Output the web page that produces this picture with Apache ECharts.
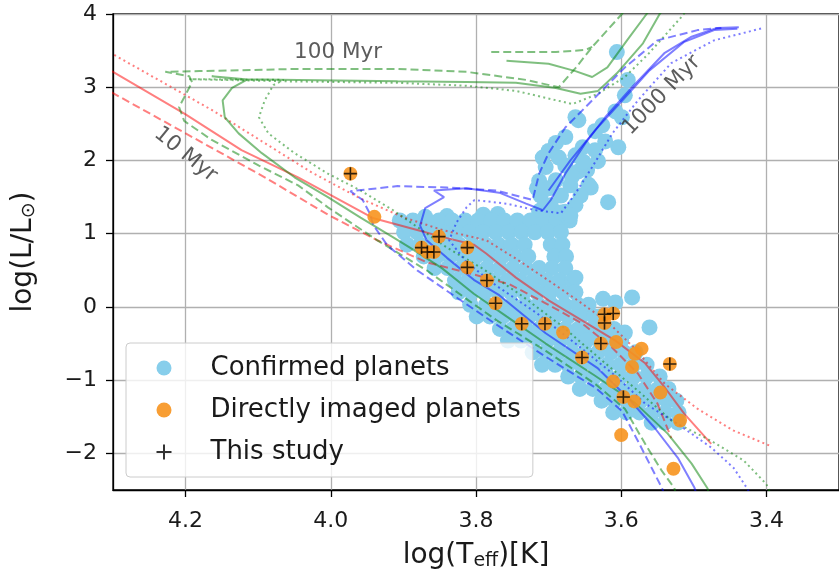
<!DOCTYPE html>
<html>
<head>
<meta charset="utf-8">
<script src="https://cdn.jsdelivr.net/npm/echarts@6/dist/echarts.min.js"></script>
<style>
html, body { margin: 0; padding: 0; background: #fff; }
#chart { width: 839px; height: 581px; }
</style>
</head>
<body>
<div id="chart"></div>
<script>
const xTicks = [3.4, 3.6, 3.8, 4.0, 4.2];
const yTicks = [-2, -1, 0, 1, 2, 3, 4];

// isochrones: 10 Myr (red), 100 Myr (green), 1000 Myr (blue)
const iso10Solid = [[4.33,3.38],[4.30,3.21],[4.20,2.63],[4.123,2.14],[4.045,1.77],[3.941,1.21],[3.881,1.05],[3.844,0.95],[3.803,0.85],[3.786,0.73],[3.745,0.40],[3.700,0.09],[3.653,-0.19],[3.608,-0.46],[3.567,-0.77],[3.540,-1.10],[3.513,-1.46],[3.476,-1.87]];
const iso10Dashed = [[4.33,3.10],[4.30,2.92],[4.091,1.77],[4.004,1.26],[3.936,0.91],[3.868,0.61],[3.813,0.47],[3.754,0.31],[3.704,0.05],[3.653,-0.23],[3.612,-0.56],[3.577,-0.91],[3.550,-1.32],[3.531,-1.79]];
const iso10Dotted = [[4.33,3.62],[4.30,3.45],[4.164,2.69],[4.027,1.84],[3.959,1.48],[3.899,1.22],[3.846,1.05],[3.786,0.91],[3.745,0.66],[3.700,0.36],[3.663,0.11],[3.618,-0.21],[3.581,-0.57],[3.540,-1.05],[3.495,-1.39],[3.445,-1.69],[3.394,-1.90]];

const iso100Solid = [[3.479,-2.58],[3.481,-2.48],[3.503,-2.14],[3.536,-1.73],[3.581,-1.31],[3.636,-0.94],[3.704,-0.50],[3.758,-0.13],[3.803,0.18],[3.847,0.53],[3.891,0.81],[3.914,0.95],[3.959,1.22],[4.004,1.50],[4.050,1.77],[4.095,2.10],[4.127,2.37],[4.146,2.59],[4.149,2.82],[4.136,2.99],[4.116,3.10],[4.164,3.15],[4.118,3.11],[4.045,3.10],[3.908,3.08],[3.813,3.07],[3.745,3.06],[3.690,2.99],[3.656,2.91],[3.632,2.95],[3.606,3.19],[3.570,3.60],[3.547,4.00],[3.537,4.12]];
const iso100SolidLoop = [[3.758,3.36],[3.700,3.32],[3.663,3.22],[3.640,3.14],[3.619,3.27],[3.592,3.64],[3.565,4.00],[3.556,4.12]];
const iso100Dashed = [[3.524,-2.58],[3.527,-2.47],[3.544,-2.24],[3.567,-1.87],[3.595,-1.39],[3.636,-1.05],[3.704,-0.60],[3.772,-0.18],[3.809,0.08],[3.868,0.50],[3.936,0.91],[4.004,1.36],[4.045,1.66],[4.099,1.93],[4.164,2.28],[4.202,2.54],[4.209,2.73],[4.202,2.86],[4.191,3.07],[4.195,3.15],[4.228,3.21],[4.181,3.22],[4.045,3.25],[3.908,3.25],[3.813,3.21],[3.731,3.10],[3.686,3.00],[3.663,3.26],[3.640,3.55],[3.619,3.78],[3.599,4.00],[3.588,4.12]];
const iso100DashedLoop = [[3.779,3.48],[3.690,3.48],[3.649,3.51],[3.640,3.55]];
const iso100Dotted = [[3.393,-2.58],[3.400,-2.42],[3.431,-2.10],[3.476,-1.83],[3.531,-1.55],[3.574,-1.17],[3.629,-0.71],[3.683,-0.25],[3.738,0.16],[3.792,0.53],[3.840,0.81],[3.914,1.32],[3.959,1.59],[4.004,1.82],[4.050,2.10],[4.086,2.37],[4.099,2.59],[4.091,2.82],[4.079,3.03],[4.065,3.10],[4.195,3.11],[4.059,3.08],[3.908,3.06],[3.813,3.02],[3.745,2.95],[3.667,2.77],[3.632,2.91],[3.595,3.14],[3.563,3.45],[3.517,3.96],[3.510,4.05]];

const iso1000Solid = [[3.496,-2.58],[3.499,-2.47],[3.522,-2.06],[3.554,-1.65],[3.591,-1.24],[3.632,-0.84],[3.704,-0.36],[3.768,0.16],[3.803,0.37],[3.840,0.67],[3.868,0.91],[3.877,1.11],[3.870,1.35],[3.844,1.50],[3.858,1.59],[3.813,1.62],[3.768,1.56],[3.731,1.41],[3.708,1.32],[3.697,1.46],[3.677,1.82],[3.649,2.24],[3.622,2.59],[3.585,3.00],[3.540,3.47],[3.503,3.69],[3.468,3.81],[3.438,3.82]];
const iso1000Solid2 = [[3.700,1.59],[3.670,2.00],[3.636,2.41],[3.602,2.78],[3.561,3.23],[3.513,3.62],[3.472,3.78],[3.440,3.80]];
const iso1000Dashed = [[3.540,-2.58],[3.544,-2.47],[3.558,-2.20],[3.577,-1.83],[3.599,-1.42],[3.636,-1.10],[3.704,-0.68],[3.772,-0.24],[3.827,0.13],[3.881,0.50],[3.922,0.84],[3.941,1.11],[3.947,1.29],[3.956,1.46],[3.973,1.58],[3.908,1.65],[3.840,1.63],[3.772,1.59],[3.722,1.46],[3.713,1.82],[3.700,2.10],[3.677,2.45],[3.640,2.82],[3.595,3.27],[3.550,3.64],[3.495,3.78],[3.462,3.81]];
const iso1000Dotted = [[3.421,-2.58],[3.427,-2.47],[3.445,-2.20],[3.476,-1.92],[3.522,-1.60],[3.567,-1.32],[3.608,-0.94],[3.663,-0.50],[3.717,-0.08],[3.772,0.29],[3.813,0.61],[3.837,0.91],[3.827,1.15],[3.813,1.36],[3.802,1.46],[3.758,1.41],[3.717,1.32],[3.683,1.28],[3.663,1.55],[3.640,1.91],[3.612,2.37],[3.577,2.82],[3.531,3.33],[3.472,3.64],[3.404,3.81]];

const ageLabelText = ['10 Myr', '100 Myr', '1000 Myr'];
const ageLabelPos = [[4.200, 2.08], [3.990, 3.48], [3.544, 2.89]];

const confirmedPlanets = [
  [3.79,1.26],[3.77,1.27],[3.713,1.30],[3.695,1.31],[3.677,1.30],[3.84,1.24],[3.87,1.23],
  [3.905,1.18],[3.887,1.18],[3.869,1.18],[3.851,1.18],[3.833,1.18],[3.815,1.18],[3.797,1.18],[3.779,1.18],[3.761,1.18],[3.743,1.18],[3.725,1.18],[3.707,1.18],[3.689,1.18],[3.671,1.18],
  [3.899,1.02],[3.881,1.02],[3.863,1.02],[3.845,1.02],[3.827,1.02],[3.809,1.02],[3.791,1.02],[3.773,1.02],[3.755,1.02],[3.737,1.02],[3.719,1.02],[3.701,1.02],[3.683,1.02],
  [3.895,0.85],[3.877,0.85],[3.859,0.85],[3.841,0.85],[3.823,0.85],[3.805,0.85],[3.787,0.85],[3.769,0.85],[3.751,0.85],[3.733,0.85],[3.697,0.85],[3.681,0.85],
  [3.872,0.69],[3.854,0.69],[3.836,0.69],[3.818,0.69],[3.800,0.69],[3.782,0.69],[3.764,0.69],[3.746,0.69],[3.728,0.69],[3.692,0.69],[3.676,0.69],
  [3.857,0.53],[3.839,0.53],[3.821,0.53],[3.803,0.53],[3.785,0.53],[3.767,0.53],[3.749,0.53],[3.731,0.53],[3.713,0.53],[3.695,0.53],[3.677,0.53],
  [3.829,0.36],[3.811,0.36],[3.793,0.36],[3.775,0.36],[3.757,0.36],[3.739,0.36],[3.721,0.36],[3.703,0.36],[3.685,0.36],[3.667,0.36],[3.663,0.40],
  [3.824,0.20],[3.806,0.20],[3.788,0.20],[3.770,0.20],[3.752,0.20],[3.734,0.20],[3.716,0.20],[3.698,0.20],[3.680,0.20],[3.663,0.20],
  [3.808,0.03],[3.786,0.03],[3.768,0.03],[3.750,0.03],[3.732,0.03],[3.714,0.03],[3.696,0.03],[3.678,0.03],[3.660,0.03],[3.645,0.03],
  [3.799,-0.13],[3.781,-0.13],[3.763,-0.13],[3.745,-0.13],[3.727,-0.13],[3.709,-0.13],[3.691,-0.13],[3.673,-0.13],[3.655,-0.13],[3.637,-0.13],[3.629,-0.13],
  [3.767,-0.30],[3.749,-0.30],[3.731,-0.30],[3.713,-0.30],[3.695,-0.30],[3.677,-0.30],[3.659,-0.30],[3.641,-0.30],[3.623,-0.30],[3.610,-0.30],
  [3.756,-0.46],[3.738,-0.46],[3.720,-0.46],[3.702,-0.46],[3.684,-0.46],[3.666,-0.46],[3.648,-0.46],[3.630,-0.46],[3.612,-0.46],[3.600,-0.46],
  [3.722,-0.62],[3.704,-0.62],[3.686,-0.62],[3.668,-0.62],[3.650,-0.62],[3.632,-0.62],[3.614,-0.62],[3.596,-0.62],[3.580,-0.62],
  [3.709,-0.79],[3.691,-0.79],[3.673,-0.79],[3.655,-0.79],[3.637,-0.79],[3.619,-0.79],[3.601,-0.79],[3.583,-0.79],[3.565,-0.79],
  [3.673,-0.95],[3.655,-0.95],[3.637,-0.95],[3.619,-0.95],[3.601,-0.95],[3.583,-0.95],[3.565,-0.95],[3.547,-0.95],
  [3.657,-1.12],[3.639,-1.12],[3.621,-1.12],[3.603,-1.12],[3.585,-1.12],[3.567,-1.12],[3.549,-1.12],[3.535,-1.12],
  [3.627,-1.28],[3.609,-1.28],[3.591,-1.28],[3.573,-1.28],[3.555,-1.28],[3.537,-1.28],[3.524,-1.28],
  [3.611,-1.44],[3.593,-1.44],[3.575,-1.44],[3.557,-1.44],[3.539,-1.44],[3.521,-1.44],
  [3.558,-1.58],[3.540,-1.58],[3.522,-1.58],
  [3.625,0.11],[3.608,0.06],[3.585,0.13],[3.595,-0.35],[3.561,-0.28],
  [3.618,1.43],[3.642,1.63],
  [3.606,3.48],[3.591,3.10],[3.595,2.89],[3.599,2.59],[3.604,2.18],[3.608,2.67],[3.622,2.26],[3.632,1.99],[3.636,2.40],[3.653,2.18],
  [3.645,1.67],[3.659,1.85],[3.663,2.59],[3.677,2.32],[3.686,2.04],[3.700,2.13],[3.704,1.91],[3.713,1.72],[3.708,2.04],[3.690,2.24],
  [3.659,2.55],[3.711,1.52],[3.697,1.39],[3.683,1.52],[3.670,1.66],[3.656,1.52],[3.690,1.73],[3.677,1.93],[3.663,2.07],
  [3.711,1.32],[3.683,1.29],[3.663,1.39],[3.670,1.25],[3.647,1.87],[3.636,2.14],[3.626,2.48],
  [3.700,1.62],[3.716,1.62],[3.668,1.78],[3.652,1.98]
];

const directlyImaged = [
  [3.973,1.82],[3.940,1.23],[3.851,0.96],[3.875,0.81],[3.867,0.75],[3.858,0.75],[3.812,0.81],[3.812,0.54],
  [3.785,0.36],[3.773,0.05],[3.737,-0.23],[3.705,-0.23],[3.680,-0.35],[3.654,-0.69],[3.623,-0.10],[3.611,-0.09],
  [3.623,-0.22],[3.628,-0.50],[3.607,-0.48],[3.572,-0.57],[3.581,-0.64],[3.585,-0.82],[3.533,-0.78],[3.611,-1.02],
  [3.597,-1.23],[3.582,-1.29],[3.546,-1.17],[3.519,-1.55],[3.600,-1.75],[3.528,-2.21]
];

const thisStudy = [
  [3.973,1.82],[3.851,0.96],[3.875,0.81],[3.867,0.75],[3.858,0.75],[3.812,0.81],[3.812,0.54],[3.785,0.36],
  [3.773,0.05],[3.737,-0.23],[3.705,-0.23],[3.654,-0.69],[3.623,-0.10],[3.611,-0.09],[3.623,-0.22],[3.628,-0.50],
  [3.533,-0.78],[3.597,-1.23]
];

const FONT = 'DejaVu Sans';
const RED = 'rgba(255,0,0,0.5)';
const GREEN = 'rgba(0,128,0,0.5)';
const BLUE = 'rgba(0,0,255,0.5)';
const DASH = [8, 4];
const DOT = [2, 3.3];

function isoLine(data, color, type) {
    return {
        type: 'line',
        data: data,
        symbol: 'none',
        smooth: false,
        silent: true,
        lineStyle: { color: color, width: 2, type: type },
        emphasis: { disabled: true },
        z: 3
    };
}

const chart = echarts.init(document.getElementById('chart'));

const minusFmt = v => (v < 0 ? '\u2212' + Math.abs(v) : String(v));

const option = {
    animation: false,
    backgroundColor: '#fff',
    textStyle: { fontFamily: FONT },
    grid: {
        left: 113, top: 14, width: 733, height: 476,
        show: true, borderColor: '#000', borderWidth: 1.3, backgroundColor: '#fff'
    },
    legend: {
        orient: 'vertical',
        left: 126, top: 343,
        padding: [10, 12, 10, 29.5],
        itemWidth: 15, itemHeight: 15, itemGap: 12,
        backgroundColor: 'rgba(255,255,255,0.8)',
        borderColor: '#cccccc', borderWidth: 1, borderRadius: 4,
        textStyle: { fontSize: 26, color: '#1a1a1a', fontFamily: FONT, padding: [0, 0, 0, 34], lineHeight: 30 },
        selectedMode: false,
        data: ['Confirmed planets', 'Directly imaged planets', 'This study'],
        z: 10
    },
    xAxis: {
        type: 'value',
        inverse: true,
        min: 3.3, max: 4.3,
        name: 'log(T{sub|eff})[K]',
        nameLocation: 'middle',
        nameGap: 50,
        nameTextStyle: {
            fontSize: 28, color: '#1a1a1a', fontFamily: FONT,
            rich: { sub: { fontSize: 19, fontFamily: FONT, color: '#1a1a1a', padding: [12, 0, 0, 0] } }
        },
        axisLine: { show: true, onZero: false, lineStyle: { color: '#000', width: 1.3 } },
        axisTick: { show: true, length: 7, customValues: xTicks, lineStyle: { color: '#000', width: 1.3 } },
        axisLabel: {
            customValues: xTicks, fontSize: 22, color: '#1a1a1a', fontFamily: FONT, margin: 20,
            formatter: v => v.toFixed(1)
        },
        splitLine: { show: true, lineStyle: { color: '#b0b0b0', width: 1.3 } }
    },
    yAxis: {
        type: 'value',
        min: -2.5, max: 4,
        name: 'log(L/L{sub|\u2299})',
        nameLocation: 'middle',
        nameGap: 74,
        nameTextStyle: {
            fontSize: 28, color: '#1a1a1a', fontFamily: FONT,
            rich: { sub: { fontSize: 19, fontFamily: FONT, color: '#1a1a1a', padding: [12, 0, 0, 0] } }
        },
        axisLine: { show: true, onZero: false, lineStyle: { color: '#000', width: 1.3 } },
        axisTick: { show: true, length: 7, customValues: yTicks, lineStyle: { color: '#000', width: 1.3 } },
        axisLabel: {
            customValues: yTicks, fontSize: 22, color: '#1a1a1a', fontFamily: FONT, margin: 16,
            formatter: minusFmt
        },
        splitLine: { show: true, lineStyle: { color: '#b0b0b0', width: 1.3 } }
    },
    series: [
        {
            name: 'Confirmed planets',
            type: 'scatter',
            data: confirmedPlanets,
            symbol: 'circle',
            symbolSize: 16,
            itemStyle: { color: '#87ceeb', opacity: 1 },
            silent: true,
            z: 2
        },
        isoLine(iso10Solid, RED, 'solid'),
        isoLine(iso10Dashed, RED, DASH),
        isoLine(iso10Dotted, RED, DOT),
        isoLine(iso100Solid, GREEN, 'solid'),
        isoLine(iso100SolidLoop, GREEN, 'solid'),
        isoLine(iso100Dashed, GREEN, DASH),
        isoLine(iso100DashedLoop, GREEN, DASH),
        isoLine(iso100Dotted, GREEN, DOT),
        isoLine(iso1000Solid, BLUE, 'solid'),
        isoLine(iso1000Solid2, BLUE, 'solid'),
        isoLine(iso1000Dashed, BLUE, DASH),
        isoLine(iso1000Dotted, BLUE, DOT),
        {
            type: 'scatter',
            silent: true,
            symbolSize: 1,
            itemStyle: { color: 'rgba(0,0,0,0)' },
            data: ageLabelPos.map((p, i) => ({
                value: p,
                name: ageLabelText[i],
                label: { rotate: [-39, 0, 46][i] }
            })),
            label: {
                show: true, position: 'inside', formatter: '{b}',
                fontSize: 21.5, color: '#333333', fontFamily: FONT
            },
            z: 4
        },
        {
            name: 'Directly imaged planets',
            type: 'scatter',
            data: directlyImaged,
            symbol: 'circle',
            symbolSize: 14,
            itemStyle: { color: '#f7931e', opacity: 0.9 },
            silent: true,
            z: 5
        },
        {
            name: 'This study',
            type: 'scatter',
            data: thisStudy,
            symbol: 'path://M0,6H12M6,0V12',
            symbolSize: 13,
            itemStyle: { color: 'rgba(0,0,0,0)', borderColor: '#000', borderWidth: 1.6 },
            silent: true,
            z: 6
        }
    ]
};

chart.setOption(option);
</script>
</body>
</html>
